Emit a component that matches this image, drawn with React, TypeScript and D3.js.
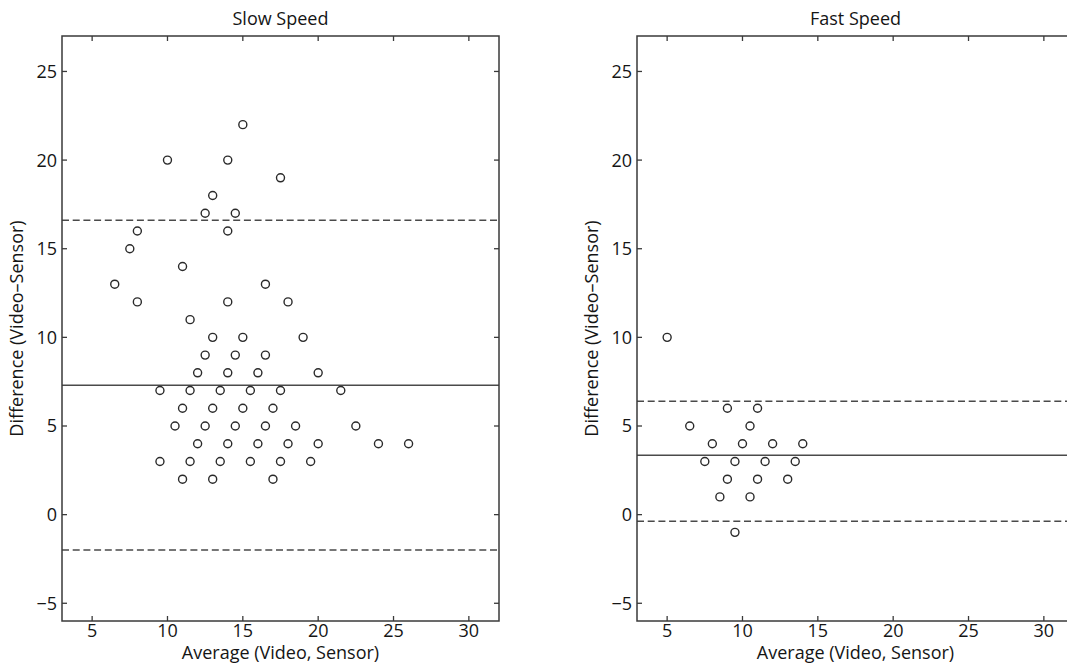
import React from "react";
import * as d3 from "d3";

// ---- data ----
const slowAvg = [
  15,
  10, 14,
  17.5,
  13,
  12.5, 14.5,
  8, 14,
  7.5,
  11,
  6.5, 16.5,
  8, 14, 18,
  11.5,
  13, 15, 19,
  12.5, 14.5, 16.5,
  12, 14, 16, 20,
  9.5, 11.5, 13.5, 15.5, 17.5, 21.5,
  11, 13, 15, 17,
  10.5, 12.5, 14.5, 16.5, 18.5, 22.5,
  12, 14, 16, 18, 20, 24, 26,
  9.5, 11.5, 13.5, 15.5, 17.5, 19.5,
  11, 13, 17,
];
const slowDiff = [
  22,
  20, 20,
  19,
  18,
  17, 17,
  16, 16,
  15,
  14,
  13, 13,
  12, 12, 12,
  11,
  10, 10, 10,
  9, 9, 9,
  8, 8, 8, 8,
  7, 7, 7, 7, 7, 7,
  6, 6, 6, 6,
  5, 5, 5, 5, 5, 5,
  4, 4, 4, 4, 4, 4, 4,
  3, 3, 3, 3, 3, 3,
  2, 2, 2,
];
const fastAvg = [5, 6.5, 10.5, 9, 11, 8, 10, 12, 14, 7.5, 9.5, 11.5, 13.5, 9, 11, 13, 8.5, 10.5, 9.5];
const fastDiff = [10, 5, 5, 6, 6, 4, 4, 4, 4, 3, 3, 3, 3, 2, 2, 2, 1, 1, -1];

const slowLimits = [16.6, -2.0];
const slowMean = 7.3;
const fastLimits = [6.4, -0.38];
const fastMean = 3.35;

const titles = ["Slow Speed", "Fast Speed"];
const xLabel = "Average (Video, Sensor)";
const yLabel = "Difference (Video\u2013Sensor)";
const xTicks = [5, 10, 15, 20, 25, 30];
const yTicks = [-5, 0, 5, 10, 15, 20, 25];
const xDomain = [3, 32];
const yDomain = [-6, 27];

const FONT = "'Open Sans', sans-serif";
const AX = "#3a3a3a";
const TXT = "#151515";
const TICK = 5;
const FS = 18;

function fmt(v: number) {
  return v < 0 ? "\u2212" + Math.abs(v) : String(v);
}

function Panel({ x0, x1, title, avg, diff, mean, limits }: any) {
  const y0 = 621, y1 = 36;
  const x = d3.scaleLinear().domain(xDomain).range([x0, x1]);
  const y = d3.scaleLinear().domain(yDomain).range([y0, y1]);
  const cx = (x0 + x1) / 2;
  const cy = (y0 + y1) / 2;
  return (
    <g>
      <text x={cx} y={25} textAnchor="middle" fontFamily={FONT} fontSize={FS} fill={TXT}>
        {title}
      </text>
      {/* reference lines */}
      <line x1={x0} x2={x1} y1={y(mean)} y2={y(mean)} stroke="#4a4a4a" strokeWidth={1.5} />
      {limits.map((l: number, i: number) => (
        <line key={i} x1={x0} x2={x1} y1={y(l)} y2={y(l)} stroke="#4a4a4a" strokeWidth={1.5} strokeDasharray="7,3.7" />
      ))}
      {/* points */}
      {avg.map((a: number, i: number) => (
        <circle key={i} cx={x(a)} cy={y(diff[i])} r={4} fill="none" stroke="#2a2a2a" strokeWidth={1.4} />
      ))}
      {/* box */}
      <rect x={x0} y={y1} width={x1 - x0} height={y0 - y1} fill="none" stroke={AX} strokeWidth={1.5} />
      {xTicks.map((t) => (
        <g key={"x" + t}>
          <line x1={x(t)} x2={x(t)} y1={y0} y2={y0 - TICK} stroke={AX} strokeWidth={1.3} />
          <line x1={x(t)} x2={x(t)} y1={y1} y2={y1 + TICK} stroke={AX} strokeWidth={1.3} />
          <text x={x(t)} y={637} textAnchor="middle" fontFamily={FONT} fontSize={FS} fill={TXT}>
            {fmt(t)}
          </text>
        </g>
      ))}
      {yTicks.map((t) => (
        <g key={"y" + t}>
          <line x1={x0} x2={x0 + TICK} y1={y(t)} y2={y(t)} stroke={AX} strokeWidth={1.3} />
          <line x1={x1} x2={x1 - TICK} y1={y(t)} y2={y(t)} stroke={AX} strokeWidth={1.3} />
          <text x={x0 - 5} y={y(t)} dy="0.36em" textAnchor="end" fontFamily={FONT} fontSize={FS} fill={TXT}>
            {fmt(t)}
          </text>
        </g>
      ))}
      <text x={cx} y={659} textAnchor="middle" fontFamily={FONT} fontSize={FS} fill={TXT}>
        {xLabel}
      </text>
      <text
        transform={`translate(${x0 - 39},${cy}) rotate(-90)`}
        textAnchor="middle"
        fontFamily={FONT}
        fontSize={FS}
        fill={TXT}
      >
        {yLabel}
      </text>
    </g>
  );
}

export default function App() {
  return (
    <svg
      width={1067}
      height={665}
      style={{ position: "absolute", left: 0, top: 0, background: "#fff" }}
    >
      <rect width={1067} height={665} fill="#fff" />
      <Panel x0={62} x1={499} title={titles[0]} avg={slowAvg} diff={slowDiff} mean={slowMean} limits={slowLimits} />
      <Panel x0={637} x1={1074} title={titles[1]} avg={fastAvg} diff={fastDiff} mean={fastMean} limits={fastLimits} />
    </svg>
  );
}
